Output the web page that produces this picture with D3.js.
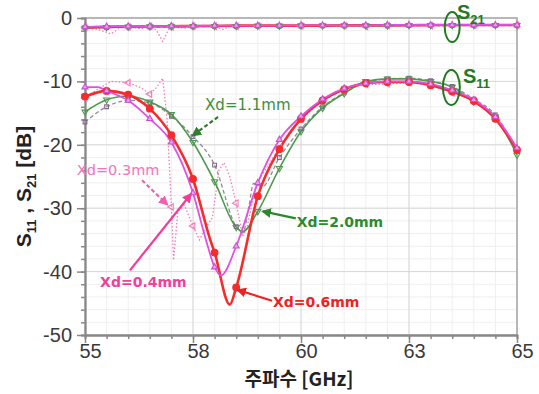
<!DOCTYPE html>
<html>
<head>
<meta charset="utf-8">
<script src="https://cdn.jsdelivr.net/npm/d3@7"></script>
<style>
body{margin:0;background:#fff;}
svg{display:block;}
</style>
</head>
<body>
<svg width="539" height="394"></svg>
<script>
(()=>{

//x ticks (57.5 and 62.5 are printed rounded)
let xMajor = [55, 57.5, 60, 62.5, 65];
let yMajor = [-50, -40, -30, -20, -10, 0];

//S11 curves [GHz, dB]
let s11Red = [[55,-12.4],[55.5,-11.5],[56,-12.1],[56.5,-14.3],[57,-18.5],[57.5,-25.4],[57.9,-35],[58,-37],[58.35,-45.2],[58.5,-42.5],[59,-28.1],[59.5,-20.7],[60,-15.9],[60.5,-13],[61,-11.25],[61.5,-10.3],[62,-10.1],[62.5,-10.1],[63,-10.6],[63.5,-11.6],[64,-13.1],[64.5,-15.9],[65,-20.8]];
let s11Mag = [[55,-10.9],[55.3,-10.9],[55.5,-11.5],[56,-13],[56.5,-15.9],[57,-19.6],[57.5,-27.6],[57.8,-35],[58,-39.3],[58.15,-40.6],[58.5,-36],[59,-26],[59.5,-19.2],[60,-15.5],[60.5,-12.8],[61,-11.1],[61.5,-10.3],[62,-10],[62.5,-10],[63,-10.4],[63.5,-11.4],[64,-12.9],[64.5,-15.6],[65,-20.5]];
let s11Green = [[55,-14.8],[55.5,-12.9],[56,-12.3],[56.5,-13.2],[57,-15.2],[57.5,-19.6],[58,-25.8],[58.5,-33],[58.65,-33.7],[59,-30.5],[59.5,-23.7],[60,-17.9],[60.5,-14.2],[61,-11.9],[61.5,-10],[62,-9.6],[62.5,-9.6],[63,-10],[63.5,-10.9],[64,-13.2],[64.5,-15.6],[65,-21.6]];
let s11Gray = [[55,-16.4],[55.5,-14],[56,-13],[56.5,-13.4],[57,-15.5],[57.5,-18.7],[58,-23.2],[58.5,-32.9],[58.65,-33.9],[58.8,-29.5],[58.9,-26.1],[59.1,-26.6],[59.5,-22],[60,-17.5],[60.5,-14],[61,-11.8],[61.5,-10.2],[62,-9.6],[62.5,-9.5],[63,-9.9],[63.5,-10.8],[64,-12.8],[64.5,-15.3],[65,-21]];
let s11Pink = [[55,-12.6],[55.3,-11.2],[55.6,-10],[56,-10.2],[56.3,-11],[56.5,-12],[56.65,-11],[56.8,-9.5],[56.9,-16],[57,-29.8],[57.05,-38.2],[57.15,-30.5],[57.3,-29.5],[57.5,-32.8],[57.65,-35],[57.8,-33],[57.95,-31.5],[58.1,-24],[58.22,-22.8],[58.35,-25],[58.5,-29.2],[58.65,-34.5],[58.75,-33],[58.97,-26.1],[59.5,-20.5],[60,-16],[60.5,-13],[61,-11.2],[61.5,-10.5],[62,-10.4],[62.5,-10.2],[63,-10.6],[63.5,-11.8],[64,-13],[64.5,-15.6],[65,-20.8]];

//S21 curves
let s21Freq = [55,55.5,56,56.5,57,57.5,58,58.5,59,59.5,60,60.5,61,61.5,62,62.5,63,63.5,64,64.5,65];
let s21Red = [-1.5,-1.4,-1.35,-1.3,-1.3,-1.25,-1.25,-1.2,-1.2,-1.2,-1.2,-1.2,-1.15,-1.15,-1.15,-1.15,-1.1,-1.1,-1.1,-1.1,-1.1];
let s21Mag = [-1.4,-1.35,-1.3,-1.3,-1.25,-1.25,-1.2,-1.2,-1.2,-1.2,-1.15,-1.15,-1.15,-1.15,-1.1,-1.1,-1.1,-1.1,-1.1,-1.1,-1.1];
let s21Green = [-1.6,-1.45,-1.4,-1.35,-1.35,-1.3,-1.3,-1.3,-1.25,-1.25,-1.2,-1.2,-1.2,-1.2,-1.2,-1.15,-1.15,-1.15,-1.15,-1.15,-1.15];
let s21Gray = [-1.5,-1.5,-1.45,-1.45,-1.4,-1.4,-1.35,-1.35,-1.3,-1.3,-1.3,-1.25,-1.25,-1.25,-1.25,-1.2,-1.2,-1.2,-1.2,-1.2,-1.2];
let s21Pink = [[55,-1.5],[55.3,-1.8],[55.6,-2.5],[55.8,-1.6],[56,-1.4],[56.3,-1.7],[56.5,-1.3],[56.65,-1.9],[56.8,-3.7],[56.95,-1.6],[57,-1.4],[57.3,-1.6],[57.5,-1.3],[58,-1.3],[58.2,-1.8],[58.35,-1.3],[58.5,-1.3],[59,-1.25],[60,-1.25],[61,-1.2],[61.5,-1.35],[62,-1.2],[63,-1.2],[64,-1.15],[65,-1.15]];

let svg = d3.select("svg");

let x = d3.scaleLinear().domain([55, 65]).range([85, 517]);
let y = d3.scaleLinear().domain([-50, 0]).range([335, 18]);

//grid
let g = svg.append("g");
g.selectAll(".vminor").data(d3.range(55, 65.01, 0.5)).enter().append("line")
	.attr("x1", d => x(d)).attr("x2", d => x(d)).attr("y1", y(0)).attr("y2", y(-50))
	.attr("stroke", "#efefef");
g.selectAll(".hminor").data(d3.range(-50, 0.01, 2)).enter().append("line")
	.attr("x1", x(55)).attr("x2", x(65)).attr("y1", d => y(d)).attr("y2", d => y(d))
	.attr("stroke", "#efefef");
g.selectAll(".vmajor").data(xMajor).enter().append("line")
	.attr("x1", d => x(d)).attr("x2", d => x(d)).attr("y1", y(0)).attr("y2", y(-50))
	.attr("stroke", "#d8d8d8");
g.selectAll(".hmajor").data(yMajor).enter().append("line")
	.attr("x1", x(55)).attr("x2", x(65)).attr("y1", d => y(d)).attr("y2", d => y(d))
	.attr("stroke", "#d8d8d8");
//frame top/right
svg.append("path")
	.attr("d", `M${x(55)},${y(0)}H${x(65)}V${y(-50)}`)
	.attr("fill", "none").attr("stroke", "#a8a8a8").attr("stroke-width", 1.5);

//axes
function styleAxis(a){
	a.select(".domain").attr("stroke", "#888").attr("stroke-width", 1.8);
	a.selectAll(".tick line").attr("stroke", "#888").attr("stroke-width", 1.5);
	a.selectAll("text").attr("fill", "#3a3a3a").style("font-family", "'Liberation Sans', Arial, sans-serif").style("font-size", "20px");
}
let xMinor = svg.append("g").attr("transform", `translate(0,${y(-50)})`)
	.call(d3.axisBottom(x).tickValues(d3.range(55, 65.01, 0.5)).tickSize(4).tickFormat(""));
styleAxis(xMinor);
let xAxis = svg.append("g").attr("transform", `translate(0,${y(-50)})`)
	.call(d3.axisBottom(x).tickValues(xMajor).tickSize(8).tickSizeOuter(0).tickPadding(1).tickFormat(d => Math.round(d)));
styleAxis(xAxis);
xAxis.selectAll("text").attr("dx", 5);

let yMinor = svg.append("g").attr("transform", `translate(${x(55)},0)`)
	.call(d3.axisLeft(y).tickValues(d3.range(-50, 0.01, 2)).tickSize(4).tickFormat(""));
styleAxis(yMinor);
let yAxis = svg.append("g").attr("transform", `translate(${x(55)},0)`)
	.call(d3.axisLeft(y).tickValues(yMajor).tickSize(8).tickSizeOuter(0).tickPadding(5).tickFormat(d => String(d)));
styleAxis(yAxis);

//series
let line = d3.line().x(d => x(d[0])).y(d => y(d[1])).curve(d3.curveMonotoneX);
let zip = (f, v) => f.map((d, i) => [d, v[i]]);
let onHalf = d => Math.abs(d[0] * 2 - Math.round(d[0] * 2)) < 1e-6;

let series = [
	{s11: s11Gray, s21: zip(s21Freq, s21Gray), color: "#8e8e8e", w: 1.3, dash: "4,2.5", sym: d3.symbolSquare, size: 14, rot: 0, fill: "none", mark: "#7e6a8e"},
	{s11: s11Pink, s21: s21Pink, color: "#f47ab6", w: 1.3, dash: "1.5,2", sym: d3.symbolTriangle, size: 18, rot: -90, fill: "none", curve: d3.curveLinear},
	{s11: s11Green, s21: zip(s21Freq, s21Green), color: "#4e9a4e", w: 1.6, dash: null, sym: d3.symbolTriangle, size: 16, rot: 180, fill: "none"},
	{s11: s11Red, s21: zip(s21Freq, s21Red), color: "#f42c2c", w: 2.6, dash: null, sym: d3.symbolCircle, size: 36, rot: 0, fill: "#f42c2c", noS21Marks: true},
	{s11: s11Mag, s21: zip(s21Freq, s21Mag), color: "#e24fe6", w: 1.8, dash: null, sym: d3.symbolTriangle, size: 16, rot: 0, fill: "#ee9cee", mark: "#c850d0"}
];

series.forEach(s => {
	let ln = s.curve ? d3.line().x(d => x(d[0])).y(d => y(d[1])).curve(s.curve) : line;
	[s.s11, s.s21].forEach(data => {
		svg.append("path")
			.attr("d", ln(data))
			.attr("fill", "none")
			.attr("stroke", s.color)
			.attr("stroke-width", s.w)
			.attr("stroke-dasharray", s.dash);
	});
});
series.forEach(s => {
	let pts = s.s11.filter(onHalf);
	if(!s.noS21Marks) pts = pts.concat(s.s21.filter(onHalf));
	svg.selectAll(null).data(pts).enter().append("path")
		.attr("d", d3.symbol().type(s.sym).size(s.size))
		.attr("transform", d => `translate(${x(d[0])},${y(d[1])}) rotate(${s.rot})`)
		.attr("fill", s.fill)
		.attr("stroke", s.mark || s.color)
		.attr("stroke-width", 1.1);
});

//arrows
let defs = svg.append("defs");
function arrow(f1, d1, f2, d2, color, dashed, id){
	defs.append("marker").attr("id", id)
		.attr("viewBox", "0 0 10 10").attr("refX", 8).attr("refY", 5)
		.attr("markerWidth", 4.5).attr("markerHeight", 4.5).attr("orient", "auto")
		.append("path").attr("d", "M0,0L10,5L0,10Z").attr("fill", color);
	svg.append("line")
		.attr("x1", x(f1)).attr("y1", y(d1)).attr("x2", x(f2)).attr("y2", y(d2))
		.attr("stroke", color).attr("stroke-width", 2.2)
		.attr("stroke-dasharray", dashed ? "4,2.5" : null)
		.attr("marker-end", `url(#${id})`);
}
function label(f, d, txt, color, bold, size){
	svg.append("text")
		.attr("x", x(f)).attr("y", y(d))
		.attr("fill", color)
		.style("font-family", "'DejaVu Sans', sans-serif")
		.style("font-weight", bold ? "bold" : "normal")
		.style("font-size", size + "px")
		.text(txt);
}

label(57.78, -14.5, "Xd=1.1mm", "#3e8e3e", false, 15);
arrow(58.08, -15.6, 57.5, -18.5, "#2f7d2f", true, "a1");
label(54.81, -24.8, "Xd=0.3mm", "#f274bc", false, 14.5);
arrow(56.32, -25.6, 56.9, -29.4, "#f060b0", true, "a2");
label(55.35, -42.4, "Xd=0.4mm", "#f0409c", true, 14);
arrow(56.04, -39.8, 57.45, -27.8, "#f23d98", false, "a3");
label(59.9, -33.0, "Xd=2.0mm", "#2e8a2e", true, 14);
arrow(59.88, -31.6, 59.12, -30.5, "#2a8a2a", false, "a4");
label(59.35, -45.6, "Xd=0.6mm", "#ee2222", true, 14);
arrow(59.33, -44.6, 58.54, -42.9, "#ee2222", false, "a5");

//S21 / S11 ellipses
svg.append("ellipse").attr("cx", x(63.5)).attr("cy", y(-1.42)).attr("rx", 7.5).attr("ry", 15)
	.attr("fill", "none").attr("stroke", "#1f7a1f").attr("stroke-width", 2);
svg.append("ellipse").attr("cx", x(63.48)).attr("cy", y(-10.96)).attr("rx", 8.5).attr("ry", 17.5)
	.attr("fill", "none").attr("stroke", "#1f7a1f").attr("stroke-width", 2);
function sLabel(f, d, sub){
	let t = svg.append("text").attr("x", x(f)).attr("y", y(d))
		.attr("fill", "#237a23")
		.style("font-family", "'Liberation Sans', Arial, sans-serif")
		.style("font-weight", "bold");
	t.append("tspan").style("font-size", "20px").text("S");
	t.append("tspan").style("font-size", "13px").attr("dy", 5).text(sub);
}
sLabel(63.61, -0.2, "21");
sLabel(63.75, -10.3, "11");

//axis titles
let yt = svg.append("text")
	.attr("transform", `translate(31,${(y(0) + y(-50)) / 2 + 10}) rotate(-90)`)
	.attr("text-anchor", "middle")
	.attr("fill", "#222")
	.style("font-family", "'Liberation Sans', Arial, sans-serif")
	.style("font-weight", "bold")
	.style("font-size", "21px");
yt.append("tspan").text("S");
yt.append("tspan").style("font-size", "13px").attr("dy", 5).text("11");
yt.append("tspan").attr("dy", -5).text(" , S");
yt.append("tspan").style("font-size", "13px").attr("dy", 5).text("21");
yt.append("tspan").attr("dy", -5).text("  [dB]");

svg.append("text")
	.attr("x", 299).attr("y", 386)
	.attr("text-anchor", "middle")
	.attr("fill", "#222")
	.style("font-family", "'Noto Sans CJK KR', sans-serif")
	.style("font-weight", "bold")
	.style("font-size", "19px")
	.text("주파수 [GHz]");

})();
</script>
</body>
</html>
